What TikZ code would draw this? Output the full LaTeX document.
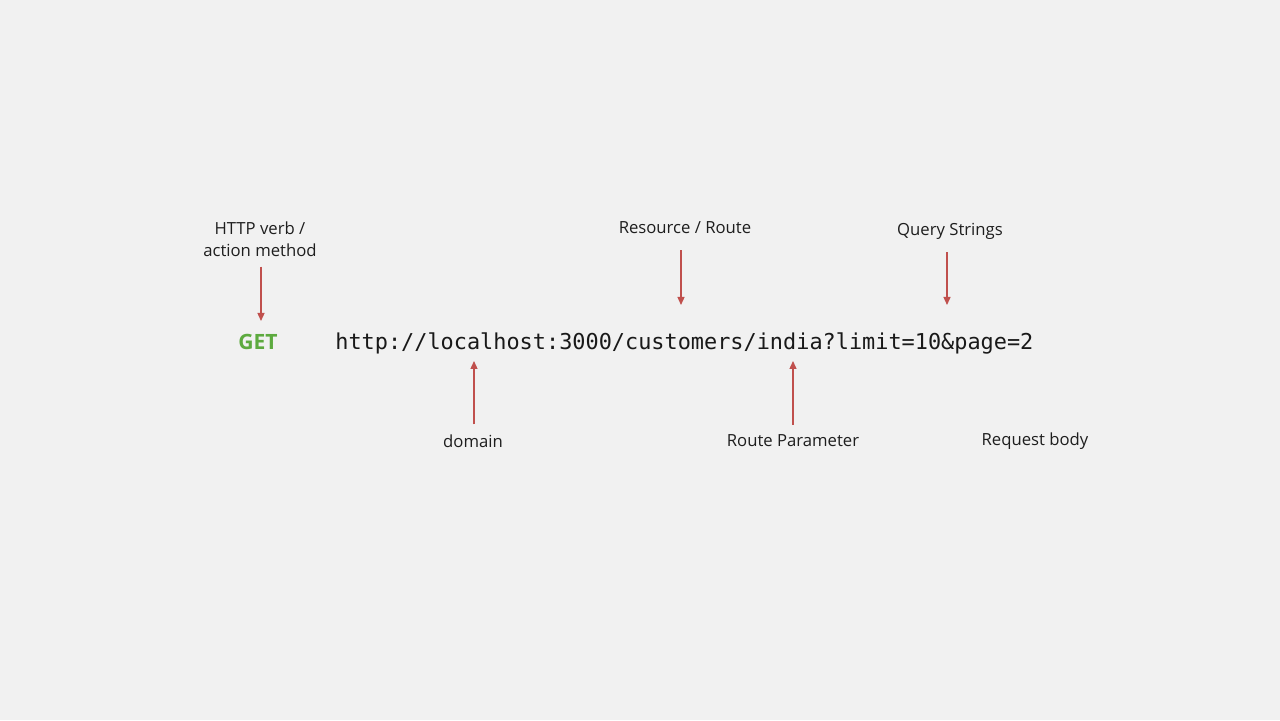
\documentclass[tikz,border=0pt]{standalone}
\usepackage{fontspec}
\setmainfont{Open Sans}
\setmonofont{DejaVu Sans Mono}
\usetikzlibrary{arrows.meta,positioning}
\definecolor{slidebg}{HTML}{F1F1F1}
\definecolor{ptrred}{HTML}{C0504D}
\definecolor{verbgreen}{HTML}{5DAA3F}
\definecolor{labtext}{HTML}{1E1E1E}

\begin{document}
\begin{tikzpicture}[
  lab/.style={align=center, text=labtext, inner sep=1pt,
              font=\fontsize{9.5}{12.6}\selectfont},
  verb/.style={text=verbgreen, inner sep=0pt,
               font=\fontsize{12}{14}\selectfont\bfseries},
  url/.style={text=black!90, inner sep=0pt,
              font=\fontsize{12.45}{14}\selectfont\ttfamily},
  ptr/.style={-{Triangle[length=1.6mm, width=1.4mm]}, line width=0.75pt, draw=ptrred}
]
  \fill[slidebg] (0,0) rectangle (25.6,14.4);

  % Row 1: labels above
  \node[lab] (verbLab)  at (5.20,9.62) {HTTP verb /\\ action method};
  \node[lab] (resLab)   at (13.70,9.84) {Resource / Route};
  \node[lab] (queryLab) at (19.00,9.78) {Query Strings};
  % Row 2: the request line
  \node[verb] (get) at (5.16,7.56) {GET};
  \node[url, anchor=west] (url) at (6.70,7.54) {http://localhost:3000/customers/india?limit=10\&page=2};
  % Row 3: labels below
  \node[lab] (domLab)   at (9.46,5.58)  {domain};
  \node[lab] (paramLab) at (15.86,5.58) {Route Parameter};
  \node[lab] (bodyLab)  at (20.70,5.58) {Request body};

  % where the pointers end
  \coordinate (verbTip)  at (5.22,7.98);
  \coordinate (resTip)   at (13.62,8.30);
  \coordinate (queryTip) at (18.94,8.30);
  \coordinate (domTip)   at (9.48,7.18);
  \coordinate (paramTip) at (15.86,7.18);

  \draw[ptr, shorten <=0.16cm] (verbLab.south -| verbTip) -- (verbTip);
  \draw[ptr, shorten <=0.28cm] (resLab.south -| resTip) -- (resTip);
  \draw[ptr, shorten <=0.22cm] (queryLab.south -| queryTip) -- (queryTip);
  \draw[ptr, shorten <=0.16cm] (domLab.north -| domTip) -- (domTip);
  \draw[ptr, shorten <=0.16cm] (paramLab.north -| paramTip) -- (paramTip);
\end{tikzpicture}
\end{document}
